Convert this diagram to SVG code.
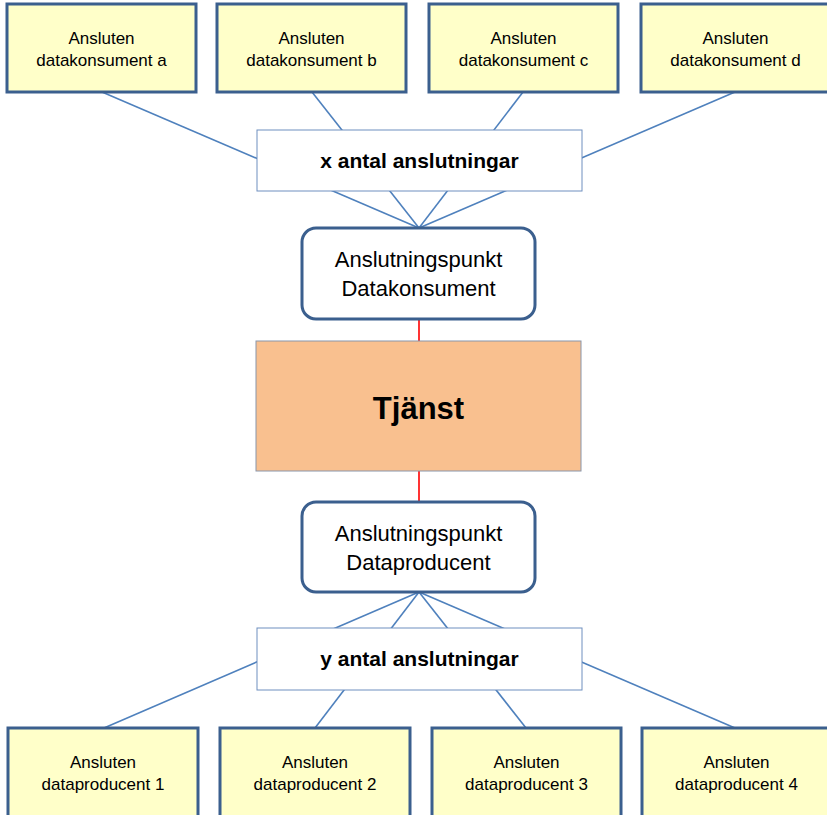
<svg xmlns="http://www.w3.org/2000/svg" width="827" height="815" viewBox="0 0 827 815">
  <style>
    .leaf { fill: #ffffc9; stroke: #3b5f8e; stroke-width: 3; }
    .leaf-text { font-family: "Liberation Sans", Arial, sans-serif; font-size: 17px; fill: #000; text-anchor: middle; }
    .hub { fill: #ffffff; stroke: #6f8fbf; stroke-width: 1; }
    .hub-text { font-family: "Liberation Sans", Arial, sans-serif; font-size: 21px; font-weight: bold; fill: #000; text-anchor: middle; }
    .port { fill: #ffffff; stroke: #3b5f8e; stroke-width: 3; }
    .port-text { font-family: "Liberation Sans", Arial, sans-serif; font-size: 22px; fill: #000; text-anchor: middle; }
    .service { fill: #f9c08f; stroke: #8a96aa; stroke-width: 1; }
    .service-text { font-family: "Liberation Sans", Arial, sans-serif; font-size: 31px; font-weight: bold; fill: #000; text-anchor: middle; }
    .link { stroke: #4f81bd; stroke-width: 1.6; fill: none; }
    .red { stroke: #ff0000; stroke-width: 1.6; fill: none; }
  </style>

  <rect width="827" height="815" fill="#ffffff"/>

  <!-- connectors (drawn first so hub boxes cover their middle sections) -->
  <g id="connectors">
    <line class="link" x1="102" y1="92" x2="419" y2="228"/>
    <line class="link" x1="312" y1="92" x2="419" y2="228"/>
    <line class="link" x1="523" y1="92" x2="419" y2="228"/>
    <line class="link" x1="735" y1="92" x2="419" y2="228"/>
    <line class="link" x1="419" y1="592" x2="104" y2="728"/>
    <line class="link" x1="419" y1="592" x2="315" y2="728"/>
    <line class="link" x1="419" y1="592" x2="526" y2="728"/>
    <line class="link" x1="419" y1="592" x2="735" y2="728"/>
    <line class="red" x1="419" y1="319" x2="419" y2="341"/>
    <line class="red" x1="419" y1="471" x2="419" y2="502"/>
  </g>

  <!-- consumers -->
  <g id="konsument-a">
    <rect class="leaf" x="7" y="4" width="189" height="88"/>
    <text class="leaf-text" x="101.5" y="44">Ansluten</text>
    <text class="leaf-text" x="101.5" y="66">datakonsument a</text>
  </g>
  <g id="konsument-b">
    <rect class="leaf" x="217" y="4" width="189" height="88"/>
    <text class="leaf-text" x="311.5" y="44">Ansluten</text>
    <text class="leaf-text" x="311.5" y="66">datakonsument b</text>
  </g>
  <g id="konsument-c">
    <rect class="leaf" x="429" y="4" width="189" height="88"/>
    <text class="leaf-text" x="523.5" y="44">Ansluten</text>
    <text class="leaf-text" x="523.5" y="66">datakonsument c</text>
  </g>
  <g id="konsument-d">
    <rect class="leaf" x="641" y="4" width="189" height="88"/>
    <text class="leaf-text" x="735.5" y="44">Ansluten</text>
    <text class="leaf-text" x="735.5" y="66">datakonsument d</text>
  </g>

  <!-- consumer connection hub -->
  <g id="x-anslutningar">
    <rect class="hub" x="257" y="130" width="325" height="61"/>
    <text class="hub-text" x="419.5" y="168">x antal anslutningar</text>
  </g>

  <g id="anslutningspunkt-konsument">
    <rect class="port" x="302" y="228" width="233" height="91" rx="14" ry="14"/>
    <text class="port-text" x="418.5" y="267">Anslutningspunkt</text>
    <text class="port-text" x="418.5" y="296">Datakonsument</text>
  </g>

  <g id="tjanst">
    <rect class="service" x="256" y="341" width="325" height="130"/>
    <text class="service-text" x="418.5" y="419">Tjänst</text>
  </g>

  <g id="anslutningspunkt-producent">
    <rect class="port" x="302" y="502" width="233" height="90" rx="14" ry="14"/>
    <text class="port-text" x="418.5" y="541">Anslutningspunkt</text>
    <text class="port-text" x="418.5" y="570">Dataproducent</text>
  </g>

  <!-- producer connection hub -->
  <g id="y-anslutningar">
    <rect class="hub" x="257" y="628" width="325" height="62"/>
    <text class="hub-text" x="419.5" y="666">y antal anslutningar</text>
  </g>

  <!-- producers -->
  <g id="producent-1">
    <rect class="leaf" x="8" y="728" width="190" height="95"/>
    <text class="leaf-text" x="103" y="768">Ansluten</text>
    <text class="leaf-text" x="103" y="790">dataproducent 1</text>
  </g>
  <g id="producent-2">
    <rect class="leaf" x="220" y="728" width="190" height="95"/>
    <text class="leaf-text" x="315" y="768">Ansluten</text>
    <text class="leaf-text" x="315" y="790">dataproducent 2</text>
  </g>
  <g id="producent-3">
    <rect class="leaf" x="432" y="728" width="189" height="95"/>
    <text class="leaf-text" x="526.5" y="768">Ansluten</text>
    <text class="leaf-text" x="526.5" y="790">dataproducent 3</text>
  </g>
  <g id="producent-4">
    <rect class="leaf" x="642" y="728" width="189" height="95"/>
    <text class="leaf-text" x="736.5" y="768">Ansluten</text>
    <text class="leaf-text" x="736.5" y="790">dataproducent 4</text>
  </g>
</svg>
